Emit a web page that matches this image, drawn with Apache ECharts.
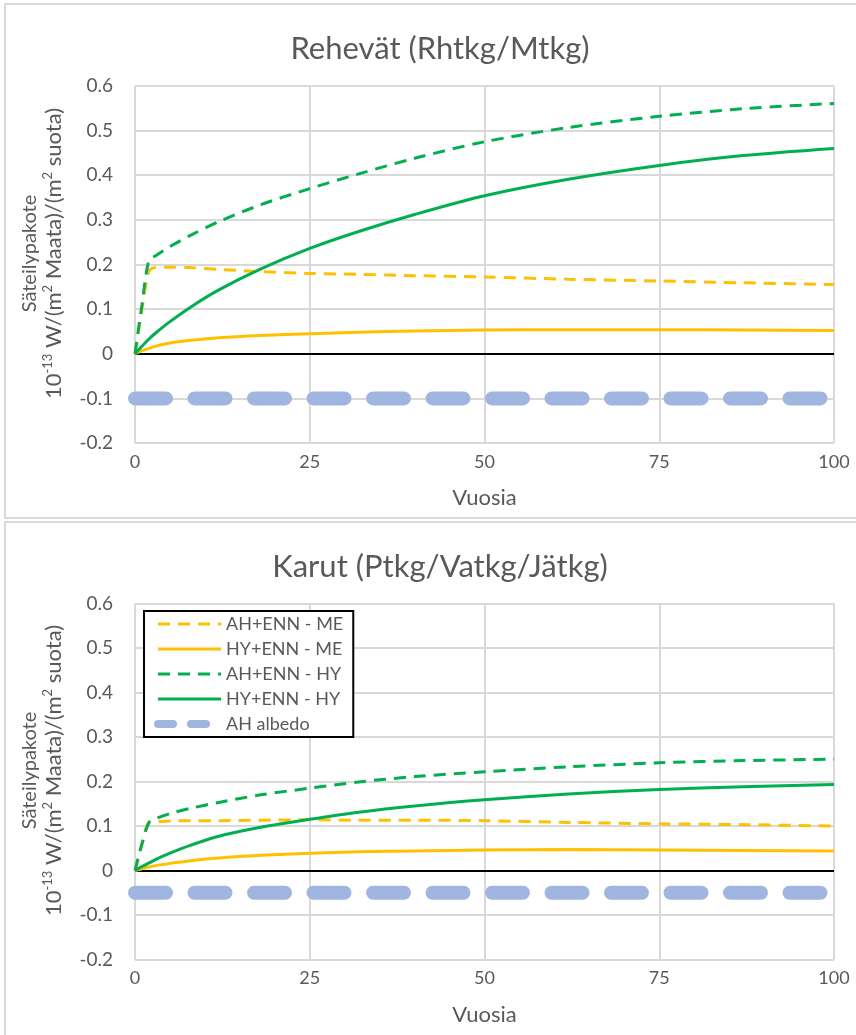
<!DOCTYPE html>
<html>
<head>
<meta charset="utf-8">
<script src="https://cdn.jsdelivr.net/npm/echarts@6/dist/echarts.min.js"></script>
<style>
html,body{margin:0;padding:0;background:#fff;}
#c{width:856px;height:1035px;}
</style>
</head>
<body>
<div id="c"></div>
<script>
// ---- data ----
const titles = ['Rehevät (Rhtkg/Mtkg)', 'Karut (Ptkg/Vatkg/Jätkg)'];
const seriesNames = ['AH+ENN - ME', 'HY+ENN - ME', 'AH+ENN - HY', 'HY+ENN - HY', 'AH albedo'];
const xTitle = 'Vuosia';
const yTitle1 = 'Säteilypakote';
const years = [0, 1, 2, 3, 5, 8, 12, 18, 25, 32, 40, 50, 62, 75, 87, 100];
const albedoYears = [0, 100];

// Top chart (Rehevät)
const topAhEnnMe = [0, 0.10, 0.185, 0.193, 0.194, 0.193, 0.189, 0.184, 0.180, 0.178, 0.175, 0.172, 0.167, 0.163, 0.159, 0.155];
const topHyEnnMe = [0, 0.007, 0.012, 0.017, 0.024, 0.030, 0.036, 0.041, 0.045, 0.048, 0.051, 0.053, 0.054, 0.054, 0.053, 0.052];
const topAhEnnHy = [0, 0.11, 0.21, 0.220, 0.240, 0.266, 0.296, 0.334, 0.370, 0.403, 0.438, 0.475, 0.507, 0.532, 0.549, 0.561];
const topHyEnnHy = [0, 0.017, 0.033, 0.047, 0.072, 0.105, 0.143, 0.190, 0.236, 0.274, 0.312, 0.354, 0.391, 0.422, 0.444, 0.460];
const topAlbedo = [-0.1, -0.1];

// Bottom chart (Karut)
const botAhEnnMe = [0, 0.06, 0.108, 0.110, 0.111, 0.112, 0.112, 0.113, 0.114, 0.113, 0.113, 0.112, 0.108, 0.105, 0.103, 0.100];
const botHyEnnMe = [0, 0.004, 0.008, 0.011, 0.016, 0.022, 0.028, 0.034, 0.039, 0.042, 0.044, 0.046, 0.047, 0.046, 0.045, 0.044];
const botAhEnnHy = [0, 0.06, 0.108, 0.117, 0.128, 0.140, 0.153, 0.170, 0.185, 0.199, 0.211, 0.222, 0.233, 0.242, 0.247, 0.250];
const botHyEnnHy = [0, 0.009, 0.017, 0.025, 0.039, 0.057, 0.077, 0.097, 0.115, 0.131, 0.145, 0.159, 0.172, 0.182, 0.188, 0.193];
const botAlbedo = [-0.05, -0.05];

const xTicks = {min: 0, max: 100, interval: 25};
const yTicks = {min: -0.2, max: 0.6, interval: 0.1};

// ---- styling ----
const FONT = 'Lato';
const GREY = '#595959';
const GRID = '#d9d9d9';
const ORANGE = '#FFC000';
const GREEN = '#00B050';
const BLUE = '#A0B6E0';
const HIDE = {color: 'rgba(0,0,0,0)', borderColor: 'rgba(0,0,0,0)', borderWidth: 0};

const grids = [
  {left: 135, top: 86, width: 699, height: 357},
  {left: 135, top: 603.5, width: 699, height: 356}
];

function pairs(xs, ys) { return xs.map((x, i) => [x, ys[i]]); }

function lineSeries(name, idx, xs, ys, color, dashed) {
  return {
    type: 'line', name: name, xAxisIndex: idx, yAxisIndex: idx,
    data: pairs(xs, ys), showSymbol: false, symbol: 'none',
    smooth: 0.3,
    lineStyle: {color: color, width: 3, type: dashed ? [12, 8] : 'solid', cap: 'butt'},
    itemStyle: {color: color}, z: 5
  };
}

function albedoSeries(idx, ys) {
  return {
    type: 'line', name: seriesNames[4], xAxisIndex: idx, yAxisIndex: idx,
    data: pairs(albedoYears, ys), showSymbol: false, symbol: 'none',
    lineStyle: {color: BLUE, width: 14, type: [31, 28.5], cap: 'round'},
    itemStyle: {color: BLUE}, z: 2,
    markLine: {
      silent: true, symbol: 'none', label: {show: false},
      lineStyle: {color: '#000', width: 2, type: 'solid'},
      data: [{yAxis: 0}], z: 3
    }
  };
}

const sets = [
  [topAhEnnMe, topHyEnnMe, topAhEnnHy, topHyEnnHy, topAlbedo],
  [botAhEnnMe, botHyEnnMe, botAhEnnHy, botHyEnnHy, botAlbedo]
];

const series = [];
sets.forEach((s, i) => {
  series.push(albedoSeries(i, s[4]));
  series.push(lineSeries(seriesNames[0], i, years, s[0], ORANGE, true));
  series.push(lineSeries(seriesNames[1], i, years, s[1], ORANGE, false));
  series.push(lineSeries(seriesNames[2], i, years, s[2], GREEN, true));
  series.push(lineSeries(seriesNames[3], i, years, s[3], GREEN, false));
});

const xAxes = grids.map((g, i) => ({
  type: 'value', gridIndex: i, min: xTicks.min, max: xTicks.max, interval: xTicks.interval,
  axisLine: {show: false}, axisTick: {show: false},
  splitLine: {show: true, lineStyle: {color: GRID, width: 2}},
  axisLabel: {color: GREY, fontFamily: FONT, fontSize: 18, margin: 10},
  name: xTitle, nameLocation: 'middle', nameGap: 44,
  nameTextStyle: {color: GREY, fontFamily: FONT, fontSize: 22}
}));

const yAxes = grids.map((g, i) => ({
  type: 'value', gridIndex: i, min: yTicks.min, max: yTicks.max, interval: yTicks.interval,
  axisLine: {show: false}, axisTick: {show: false},
  splitLine: {show: true, lineStyle: {color: GRID, width: 2}},
  axisLabel: {color: GREY, fontFamily: FONT, fontSize: 19, margin: 22,
    formatter: v => (Math.round(v * 10) / 10).toString()}
}));

const graphics = [
  {type: 'rect', shape: {x: 5, y: 4, width: 900, height: 514}, style: {fill: '#fff', stroke: GRID, lineWidth: 2}, z: -10, silent: true},
  {type: 'rect', shape: {x: 5, y: 522, width: 900, height: 600}, style: {fill: '#fff', stroke: GRID, lineWidth: 2}, z: -10, silent: true}
];
grids.forEach((g, i) => {
  const cy = g.top + g.height / 2 - 11;
  graphics.push({
    type: 'text', x: 30, y: cy, rotation: Math.PI / 2, z: 10, silent: true,
    style: {text: yTitle1, fill: GREY, font: '20px ' + FONT, align: 'center', verticalAlign: 'middle'}
  });
  graphics.push({
    type: 'text', x: 53, y: cy, rotation: Math.PI / 2, z: 10, silent: true,
    style: {
      text: '{n|10}{s|-13}{n| W/(m}{s|2}{n| Maata)/(m}{s|2}{n| suota)}',
      align: 'center', verticalAlign: 'middle', fill: GREY,
      rich: {
        n: {fontFamily: FONT, fontSize: 22, fill: GREY, lineHeight: 24, verticalAlign: 'bottom'},
        s: {fontFamily: FONT, fontSize: 13, fill: GREY, lineHeight: 24, verticalAlign: 'top'}
      }
    }
  });
});

const option = {
  animation: false,
  backgroundColor: '#fff',
  title: [
    {text: titles[0], left: 435, top: 28, textAlign: 'center',
     textStyle: {color: GREY, fontFamily: FONT, fontSize: 31, fontWeight: 'normal'}},
    {text: titles[1], left: 435, top: 546, textAlign: 'center',
     textStyle: {color: GREY, fontFamily: FONT, fontSize: 31, fontWeight: 'normal'}}
  ],
  grid: grids,
  xAxis: xAxes,
  yAxis: yAxes,
  legend: {
    left: 144, top: 611, orient: 'vertical',
    itemWidth: 63, itemHeight: 16, itemGap: 5,
    padding: [3, 10, 3, 10],
    borderColor: '#000', borderWidth: 2, backgroundColor: '#fff',
    textStyle: {color: GREY, fontFamily: FONT, fontSize: 18, lineHeight: 20},
    data: [
      {name: seriesNames[0], itemStyle: HIDE, lineStyle: {color: ORANGE, width: 3, type: [12, 8]}},
      {name: seriesNames[1], itemStyle: HIDE, lineStyle: {color: ORANGE, width: 3, type: 'solid'}},
      {name: seriesNames[2], itemStyle: HIDE, lineStyle: {color: GREEN, width: 3, type: [12, 8]}},
      {name: seriesNames[3], itemStyle: HIDE, lineStyle: {color: GREEN, width: 3, type: 'solid'}},
      {name: seriesNames[4], itemStyle: HIDE, lineStyle: {color: BLUE, width: 8, type: [15, 18], cap: 'round'}}
    ]
  },
  graphic: graphics,
  series: series
};

const chart = echarts.init(document.getElementById('c'), null, {renderer: 'canvas'});
chart.setOption(option);
</script>
</body>
</html>
